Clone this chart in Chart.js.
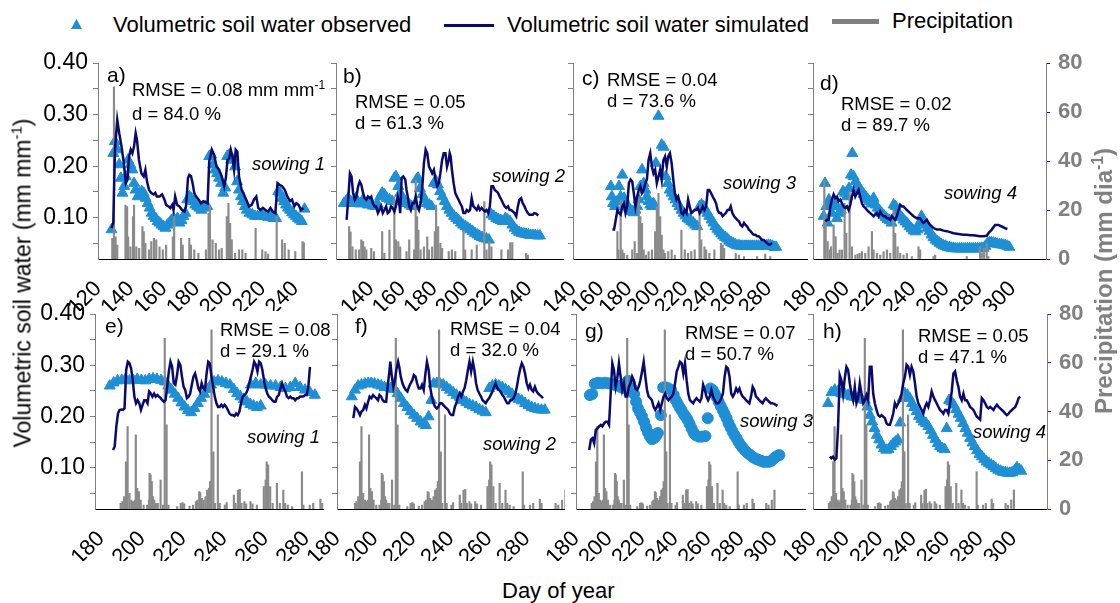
<!DOCTYPE html>
<html>
<head>
<meta charset="utf-8">
<script src="https://cdn.jsdelivr.net/npm/chart.js@4/dist/chart.umd.min.js"></script>
<style>
  html, body { margin: 0; padding: 0; background: #fff; }
  #stage { position: relative; width: 1120px; height: 603px; overflow: hidden; font-family: "Liberation Sans", Arial, sans-serif; color: #000; }
  #stage canvas { position: absolute; }
  .t { position: absolute; white-space: nowrap; line-height: 1; }
  .lab { font-size: 21px; }
  .st { font-size: 18.5px; line-height: 21px; }
  .sow { font-size: 18.5px; font-style: italic; }
  .leg { font-size: 22px; }
  sup { font-size: 0.65em; vertical-align: 0; position: relative; top: -0.6em; }
  .vt { position: absolute; white-space: nowrap; line-height: 1; transform: translate(-50%, -50%) rotate(-90deg); }
</style>
</head>
<body>
<div id="stage">
  <!-- legend -->
  <svg class="t" style="left:71px;top:19px" width="11" height="10"><polygon points="5.5,0 11,10 0,10" fill="#1f8fd5"/></svg>
  <div class="t leg" style="left:113px;top:14px">Volumetric soil water observed</div>
  <div class="t" style="left:444px;top:24px;width:50px;height:3px;background:#0a0a6e"></div>
  <div class="t leg" style="left:507px;top:14px">Volumetric soil water simulated</div>
  <div class="t" style="left:832px;top:19px;width:47px;height:5px;background:#808080"></div>
  <div class="t leg" style="left:892px;top:10px">Precipitation</div>
</div>
<script>
// ---- data: [day of year, value] ----
const yTicks = [0.05, 0.10, 0.15, 0.20, 0.25, 0.30, 0.35, 0.40];
const yLabels = [0.10, 0.20, 0.30, 0.40];
const rainTicks = [0, 20, 40, 60, 80];

const xTicksA = [120, 140, 160, 180, 200, 220, 240];
const xTicksB = [140, 160, 180, 200, 220, 240];
const xTicksC = [140, 160, 180, 200, 220, 240, 260, 280];
const xTicksD = [180, 200, 220, 240, 260, 280, 300];
const xTicksE = [180, 200, 220, 240, 260, 280];
const xTicksF = [180, 200, 220, 240, 260, 280];
const xTicksG = [180, 200, 220, 240, 260, 280, 300];
const xTicksH = [180, 200, 220, 240, 260, 280, 300];

// a) sowing 1, top row
const obsA = [[128.2,0.077],[129.3,0.225],[130.3,0.248],[131.7,0.232],[132.9,0.203],[133.9,0.177],[134.9,0.148],[135.9,0.161],[136.9,0.180],[138.3,0.212],[139.7,0.203],[140.9,0.193],[141.9,0.167],[142.9,0.154],[144.1,0.141],[145.4,0.148],[146.6,0.151],[147.8,0.148],[149.0,0.138],[150.2,0.128],[151.4,0.119],[152.6,0.109],[153.8,0.103],[155.0,0.099],[156.2,0.093],[157.4,0.090],[158.6,0.086],[159.8,0.083],[161.0,0.080],[162.2,0.086],[163.4,0.090],[164.6,0.095],[165.9,0.099],[167.1,0.093],[168.3,0.099],[169.5,0.090],[170.7,0.095],[171.9,0.103],[173.1,0.109],[174.3,0.135],[175.5,0.141],[176.7,0.138],[177.9,0.132],[179.1,0.125],[180.4,0.122],[181.6,0.119],[182.8,0.115],[184.0,0.119],[185.2,0.122],[186.4,0.122],[187.6,0.219],[188.8,0.222],[190.0,0.203],[191.2,0.193],[192.4,0.186],[193.6,0.177],[194.8,0.167],[196.1,0.148],[197.3,0.158],[198.5,0.219],[199.7,0.222],[200.9,0.212],[202.1,0.212],[203.3,0.199],[204.5,0.170],[205.7,0.154],[206.9,0.141],[208.1,0.132],[209.3,0.122],[210.5,0.115],[212.1,0.109],[213.8,0.106],[215.4,0.103],[217.0,0.103],[218.6,0.104],[220.2,0.103],[221.8,0.103],[223.4,0.101],[225.0,0.103],[226.6,0.099],[228.2,0.099],[229.5,0.151],[230.7,0.148],[231.9,0.138],[233.1,0.132],[234.3,0.125],[235.5,0.119],[236.7,0.115],[237.9,0.110],[239.1,0.106],[240.3,0.103],[241.5,0.099],[242.7,0.096],[243.9,0.093],[245.5,0.117]];
const simA = [[128.2,0.080],[129.3,0.090],[130.3,0.232],[131.7,0.290],[132.9,0.264],[134.3,0.238],[135.7,0.206],[136.9,0.167],[137.9,0.174],[138.9,0.219],[139.9,0.232],[140.9,0.225],[141.9,0.238],[142.9,0.264],[143.7,0.251],[144.9,0.212],[146.4,0.186],[147.8,0.180],[148.8,0.193],[149.8,0.170],[151.0,0.154],[152.4,0.148],[153.8,0.145],[154.8,0.148],[155.8,0.141],[157.4,0.141],[159.0,0.145],[160.4,0.135],[161.4,0.125],[162.9,0.122],[163.9,0.119],[165.1,0.125],[165.9,0.115],[166.9,0.141],[168.1,0.125],[169.5,0.122],[171.1,0.115],[172.5,0.112],[173.5,0.122],[174.7,0.177],[175.5,0.183],[176.5,0.181],[177.5,0.167],[178.5,0.148],[179.6,0.141],[181.2,0.135],[182.6,0.128],[184.0,0.132],[185.2,0.130],[186.6,0.128],[187.6,0.209],[189.2,0.232],[190.6,0.222],[192.0,0.199],[193.6,0.193],[195.2,0.180],[196.7,0.161],[197.7,0.177],[198.7,0.212],[199.7,0.215],[200.7,0.232],[201.7,0.219],[202.7,0.193],[203.7,0.232],[204.7,0.228],[205.7,0.180],[207.3,0.154],[208.7,0.145],[210.1,0.135],[211.8,0.122],[213.4,0.125],[214.8,0.135],[216.2,0.141],[217.4,0.119],[218.8,0.115],[220.2,0.119],[221.8,0.115],[223.4,0.112],[224.8,0.119],[226.2,0.112],[227.8,0.109],[229.1,0.167],[230.3,0.164],[231.9,0.161],[233.5,0.154],[235.1,0.141],[236.7,0.132],[237.9,0.135],[239.3,0.122],[240.5,0.128],[241.9,0.125],[243.3,0.115],[244.9,0.119]];
const rainA = [[128.7,8.4],[129.7,70.3],[130.7,9.1],[131.7,5.7],[136.7,22.0],[137.7,21.4],[138.3,9.1],[139.7,5.0],[141.3,17.3],[141.9,22.0],[143.3,5.0],[145.0,4.4],[147.0,13.2],[147.8,11.2],[148.8,6.4],[151.0,3.7],[152.4,7.1],[154.0,8.4],[155.4,7.8],[157.4,5.0],[159.4,3.7],[161.4,5.7],[165.5,9.1],[166.3,17.3],[170.5,8.4],[171.5,5.7],[175.5,8.4],[176.5,5.7],[178.5,3.7],[181.0,2.3],[185.6,3.7],[187.2,18.6],[188.0,22.0],[189.6,7.8],[191.6,6.4],[193.6,3.7],[195.2,4.4],[198.3,17.3],[199.3,22.7],[200.3,14.6],[201.3,7.8],[203.3,2.3],[205.7,3.7],[207.7,3.7],[209.7,2.3],[215.8,12.5],[219.8,3.7],[221.8,3.0],[223.4,2.0],[228.6,17.3],[231.9,7.8],[233.5,6.4],[235.9,3.7],[239.9,3.0],[244.3,7.1],[245.1,6.7]];

// b) sowing 2, top row
const obsB = [[123.0,0.128],[124.3,0.132],[125.7,0.138],[127.2,0.132],[128.8,0.128],[130.5,0.138],[132.0,0.128],[133.4,0.127],[135.1,0.135],[136.8,0.128],[138.2,0.125],[139.7,0.127],[141.3,0.123],[143.0,0.122],[144.5,0.125],[145.9,0.141],[147.2,0.148],[148.6,0.145],[150.1,0.138],[151.8,0.135],[153.4,0.132],[154.9,0.177],[155.9,0.180],[157.4,0.161],[158.6,0.148],[160.1,0.138],[161.5,0.132],[163.0,0.128],[164.5,0.125],[165.9,0.122],[167.4,0.122],[168.8,0.174],[169.9,0.177],[171.1,0.157],[172.6,0.145],[174.0,0.135],[175.5,0.128],[177.0,0.125],[178.4,0.122],[179.9,0.167],[181.1,0.172],[182.4,0.164],[183.8,0.151],[185.3,0.141],[186.8,0.132],[188.2,0.122],[189.7,0.115],[191.1,0.109],[192.6,0.103],[194.0,0.099],[195.5,0.095],[197.0,0.090],[198.4,0.086],[199.9,0.083],[201.3,0.080],[202.8,0.077],[204.3,0.074],[205.9,0.070],[207.4,0.067],[208.8,0.064],[210.3,0.062],[211.8,0.060],[213.2,0.059],[214.7,0.057],[216.3,0.106],[217.8,0.103],[219.3,0.099],[220.7,0.097],[222.2,0.095],[223.6,0.093],[225.1,0.099],[226.5,0.096],[228.0,0.093],[229.5,0.086],[230.9,0.080],[232.4,0.075],[233.8,0.072],[235.3,0.070],[236.8,0.069],[238.2,0.068],[239.7,0.067],[241.1,0.066],[242.6,0.066],[244.0,0.066],[245.5,0.065],[247.0,0.065]];
const simB = [[124.7,0.096],[125.7,0.135],[126.8,0.186],[127.8,0.180],[128.8,0.148],[129.9,0.135],[130.9,0.141],[132.0,0.161],[133.0,0.170],[134.0,0.164],[135.1,0.148],[136.1,0.138],[137.2,0.135],[138.2,0.141],[139.3,0.138],[140.3,0.141],[141.3,0.128],[142.4,0.122],[143.4,0.122],[144.5,0.109],[145.5,0.115],[146.5,0.122],[147.6,0.109],[148.6,0.115],[149.7,0.122],[150.7,0.109],[151.8,0.112],[152.8,0.122],[153.8,0.119],[154.9,0.112],[155.9,0.122],[157.0,0.141],[158.0,0.128],[158.6,0.109],[159.5,0.177],[160.5,0.180],[161.8,0.174],[162.6,0.154],[163.4,0.141],[164.3,0.122],[165.3,0.115],[166.3,0.128],[167.4,0.128],[168.4,0.141],[169.5,0.122],[170.5,0.115],[171.5,0.128],[172.6,0.161],[173.6,0.206],[174.7,0.232],[175.7,0.225],[176.8,0.199],[177.8,0.193],[178.8,0.186],[179.9,0.193],[180.9,0.174],[182.0,0.161],[183.0,0.167],[184.0,0.186],[185.1,0.212],[186.1,0.225],[187.2,0.225],[188.2,0.199],[189.3,0.212],[189.9,0.225],[190.5,0.219],[191.3,0.193],[192.4,0.167],[193.4,0.148],[194.5,0.141],[195.5,0.135],[196.5,0.128],[197.6,0.122],[198.6,0.109],[199.7,0.109],[200.7,0.115],[201.8,0.112],[202.8,0.115],[203.8,0.138],[204.9,0.122],[205.9,0.119],[207.0,0.115],[208.0,0.122],[209.0,0.115],[210.1,0.119],[211.1,0.115],[212.2,0.112],[213.2,0.115],[214.3,0.109],[215.3,0.122],[216.3,0.161],[217.4,0.161],[218.4,0.154],[219.5,0.151],[220.5,0.148],[221.5,0.141],[222.6,0.135],[223.6,0.128],[224.7,0.122],[225.7,0.119],[226.8,0.122],[227.8,0.115],[228.8,0.115],[229.9,0.112],[230.9,0.109],[232.0,0.103],[233.0,0.122],[234.0,0.135],[235.1,0.138],[236.1,0.128],[237.2,0.122],[238.2,0.115],[239.3,0.109],[240.3,0.106],[241.3,0.106],[242.4,0.106],[243.4,0.109],[244.5,0.108],[245.9,0.104]];
const rainB = [[126.3,13.2],[127.2,11.0],[128.4,5.0],[130.5,3.7],[132.6,3.7],[134.0,7.8],[135.1,7.1],[136.1,5.0],[137.2,3.7],[140.3,4.4],[142.0,3.0],[147.2,11.2],[148.6,2.3],[151.8,11.8],[154.9,25.4],[155.9,7.8],[157.4,7.1],[158.6,5.0],[162.6,3.0],[164.3,7.8],[167.4,3.7],[168.4,32.2],[169.3,17.3],[170.1,11.8],[171.5,3.7],[173.6,5.0],[175.7,9.1],[176.8,3.7],[178.8,5.0],[180.5,11.2],[181.3,22.0],[182.6,13.2],[184.0,6.4],[185.1,4.4],[189.3,3.0],[191.3,3.7],[193.4,3.0],[198.6,11.8],[199.7,3.7],[203.8,3.7],[207.0,5.7],[211.8,23.4],[213.2,3.7],[214.9,7.1],[216.3,5.0],[222.6,3.7],[226.8,3.7],[228.2,6.7],[229.5,6.7],[238.2,2.3],[239.3,1.6]];

// c) sowing 3, top row
const obsC = [[167.1,0.161],[167.8,0.141],[168.7,0.128],[170.1,0.122],[171.8,0.132],[172.9,0.161],[174.1,0.141],[175.3,0.183],[176.5,0.138],[177.6,0.125],[178.8,0.122],[180.0,0.119],[181.2,0.115],[182.4,0.112],[183.5,0.110],[184.7,0.115],[185.9,0.122],[187.1,0.135],[188.2,0.161],[189.4,0.193],[190.6,0.167],[191.8,0.154],[192.9,0.141],[194.1,0.132],[195.3,0.125],[196.5,0.122],[197.6,0.128],[199.3,0.206],[201.2,0.297],[203.5,0.241],[204.9,0.237],[206.4,0.180],[207.8,0.167],[209.2,0.154],[210.6,0.148],[212.0,0.141],[213.4,0.135],[214.8,0.128],[216.2,0.122],[217.6,0.115],[219.1,0.109],[220.5,0.104],[221.9,0.099],[223.3,0.096],[224.7,0.093],[226.1,0.090],[227.5,0.086],[228.9,0.083],[230.6,0.122],[232.0,0.125],[233.4,0.122],[234.8,0.115],[236.2,0.109],[237.6,0.103],[239.1,0.096],[240.5,0.090],[241.9,0.083],[243.3,0.078],[244.7,0.074],[246.1,0.069],[247.5,0.065],[248.9,0.062],[250.4,0.059],[251.8,0.055],[253.2,0.052],[254.6,0.050],[256.0,0.048],[257.4,0.046],[258.8,0.046],[260.2,0.045],[261.6,0.045],[263.1,0.045],[264.5,0.045],[265.9,0.045],[267.3,0.045],[268.7,0.045],[270.1,0.045],[271.5,0.045],[272.9,0.045],[274.4,0.045],[275.8,0.045],[277.2,0.045],[278.6,0.046],[280.0,0.047],[281.4,0.046],[282.8,0.045],[284.2,0.043],[285.4,0.043]];
const simC = [[168.2,0.077],[169.4,0.077],[170.6,0.096],[171.8,0.115],[172.9,0.109],[174.1,0.106],[175.3,0.122],[176.5,0.128],[177.6,0.109],[178.8,0.122],[180.0,0.167],[181.2,0.174],[182.4,0.170],[183.5,0.148],[184.7,0.122],[185.9,0.141],[187.1,0.154],[188.2,0.161],[189.4,0.148],[190.6,0.154],[191.8,0.167],[192.9,0.174],[194.1,0.212],[195.3,0.225],[196.5,0.199],[197.6,0.186],[198.8,0.193],[200.0,0.167],[201.2,0.180],[202.4,0.193],[203.5,0.174],[204.7,0.212],[205.9,0.219],[207.1,0.199],[208.2,0.219],[209.4,0.225],[210.6,0.206],[211.8,0.174],[212.9,0.148],[214.1,0.135],[215.3,0.141],[216.5,0.128],[217.6,0.109],[218.8,0.106],[220.0,0.115],[221.2,0.109],[222.4,0.135],[223.5,0.122],[224.7,0.109],[225.9,0.112],[227.1,0.115],[228.2,0.115],[229.4,0.119],[230.6,0.109],[231.8,0.115],[232.9,0.122],[234.1,0.115],[235.3,0.122],[236.5,0.154],[237.6,0.154],[238.8,0.148],[240.0,0.141],[241.2,0.135],[242.4,0.128],[243.5,0.115],[244.7,0.109],[245.9,0.109],[247.1,0.103],[248.2,0.106],[249.4,0.109],[250.6,0.115],[251.8,0.115],[252.9,0.122],[254.1,0.109],[255.3,0.103],[256.5,0.099],[257.6,0.096],[258.8,0.093],[260.0,0.086],[261.2,0.083],[262.4,0.090],[263.5,0.086],[264.7,0.083],[265.9,0.077],[267.1,0.074],[268.2,0.070],[269.4,0.067],[270.6,0.067],[271.8,0.064],[272.9,0.064],[274.1,0.061],[275.3,0.057],[276.5,0.057],[277.6,0.054],[278.8,0.051],[280.0,0.048],[281.2,0.048],[282.4,0.051]];
const rainC = [[171.8,11.2],[172.5,3.7],[174.1,24.1],[175.3,3.7],[176.5,2.3],[178.8,1.6],[182.4,3.7],[184.2,7.1],[185.9,2.3],[187.1,25.4],[188.2,17.3],[189.4,14.6],[190.6,3.7],[192.2,1.6],[194.1,3.0],[196.5,3.7],[198.8,11.2],[200.0,21.4],[201.2,26.8],[202.4,17.3],[203.5,9.8],[204.7,3.7],[205.9,2.3],[208.2,3.0],[210.6,3.7],[212.9,1.6],[217.6,11.8],[220.0,3.7],[222.4,2.3],[224.7,3.0],[227.1,3.7],[230.6,21.4],[231.8,7.8],[234.1,5.0],[235.3,3.7],[237.6,2.3],[241.2,3.7],[245.9,6.4],[247.1,5.7],[248.2,4.4],[256.5,2.3],[258.8,1.6],[262.4,1.0],[271.8,1.0],[277.6,2.0],[281.2,1.0]];

// d) sowing 4, top row
const obsD = [[186.4,0.103],[187.2,0.167],[188.0,0.122],[188.8,0.090],[189.6,0.135],[190.4,0.125],[191.4,0.109],[192.4,0.122],[193.4,0.128],[194.4,0.099],[195.6,0.109],[196.8,0.115],[198.0,0.151],[199.2,0.148],[200.4,0.141],[201.6,0.157],[202.8,0.183],[203.6,0.225],[204.4,0.180],[205.6,0.170],[206.8,0.164],[208.0,0.157],[209.2,0.151],[210.4,0.146],[211.6,0.141],[212.8,0.136],[214.0,0.132],[215.2,0.127],[216.4,0.138],[217.6,0.125],[218.8,0.119],[220.0,0.114],[221.2,0.109],[222.4,0.105],[223.6,0.101],[224.8,0.097],[226.0,0.095],[227.2,0.090],[228.4,0.125],[229.6,0.122],[230.8,0.112],[232.0,0.106],[233.2,0.101],[234.4,0.096],[235.6,0.092],[236.8,0.088],[238.0,0.083],[239.2,0.079],[240.4,0.075],[241.6,0.073],[242.8,0.077],[244.0,0.090],[245.2,0.103],[246.4,0.095],[247.6,0.086],[248.8,0.080],[250.0,0.074],[251.2,0.067],[252.4,0.062],[253.6,0.057],[254.8,0.054],[256.0,0.051],[257.2,0.048],[258.4,0.046],[259.6,0.045],[260.8,0.043],[262.0,0.042],[263.2,0.041],[264.4,0.041],[265.6,0.040],[266.8,0.040],[268.0,0.040],[269.2,0.040],[270.4,0.040],[271.6,0.040],[272.8,0.040],[274.0,0.040],[275.2,0.040],[276.4,0.040],[277.6,0.040],[278.8,0.040],[280.0,0.040],[281.2,0.041],[282.4,0.041],[283.6,0.045],[284.8,0.050],[286.0,0.052],[287.2,0.052],[288.4,0.051],[289.6,0.050],[290.8,0.049],[292.0,0.048],[293.2,0.048],[294.4,0.047],[295.6,0.046],[296.8,0.045],[298.0,0.043]];
const simD = [[187.4,0.093],[188.4,0.096],[189.4,0.096],[190.4,0.122],[191.4,0.135],[192.4,0.145],[193.4,0.138],[194.4,0.141],[195.4,0.132],[196.4,0.135],[197.4,0.128],[198.4,0.122],[199.4,0.119],[200.4,0.122],[201.4,0.115],[202.4,0.125],[203.4,0.141],[204.4,0.154],[205.4,0.141],[206.4,0.148],[207.4,0.154],[208.4,0.141],[209.4,0.128],[210.4,0.122],[211.4,0.119],[212.4,0.115],[213.4,0.112],[214.4,0.109],[215.4,0.106],[216.4,0.103],[217.4,0.106],[218.4,0.109],[219.4,0.103],[220.4,0.112],[221.4,0.106],[222.4,0.103],[223.4,0.103],[224.4,0.099],[225.4,0.099],[226.4,0.096],[227.4,0.103],[228.4,0.099],[229.4,0.096],[230.4,0.103],[231.4,0.115],[232.4,0.125],[233.4,0.122],[234.4,0.122],[236.4,0.115],[238.4,0.109],[240.4,0.103],[242.4,0.099],[244.4,0.099],[245.4,0.093],[246.4,0.090],[247.4,0.093],[248.4,0.096],[249.4,0.090],[250.4,0.086],[252.4,0.080],[254.4,0.077],[256.4,0.077],[258.4,0.075],[260.4,0.074],[262.4,0.072],[264.4,0.070],[266.4,0.069],[268.4,0.068],[270.4,0.067],[272.4,0.067],[274.4,0.066],[276.4,0.066],[278.4,0.065],[280.4,0.064],[282.4,0.064],[284.4,0.065],[285.4,0.070],[287.4,0.077],[289.4,0.086],[291.4,0.086],[293.4,0.083],[295.4,0.080],[296.8,0.078]];
const rainD = [[186.8,32.2],[187.6,14.6],[188.8,7.1],[190.0,3.7],[190.8,5.0],[192.4,13.9],[193.6,9.1],[194.8,2.3],[196.0,3.7],[197.4,3.7],[199.0,22.7],[200.0,10.5],[202.0,27.5],[203.4,5.0],[205.4,1.6],[206.8,2.0],[208.0,2.3],[209.4,3.0],[211.4,2.3],[213.4,5.0],[215.4,11.2],[216.4,3.7],[218.4,2.3],[220.4,1.6],[222.4,3.0],[224.4,3.7],[226.4,2.3],[228.4,20.0],[229.4,10.5],[230.8,5.0],[232.4,2.3],[234.4,1.6],[236.4,2.3],[239.4,1.0],[243.4,5.0],[244.4,3.7],[252.4,1.0],[253.4,1.6],[272.4,1.0],[280.4,5.0],[281.4,2.3],[282.8,4.4],[284.4,6.4],[285.4,1.0]];

// bottom row: one rainfall record shared by e) to h)
const rainBottom = [[189.5,2.3],[190.3,3.0],[191.2,5.1],[192.1,19.4],[192.9,33.8],[193.8,6.4],[194.7,3.7],[195.5,3.0],[196.4,3.7],[196.9,30.4],[197.6,8.5],[198.4,7.1],[199.3,3.7],[200.7,1.6],[202.4,1.6],[203.3,3.7],[203.6,14.6],[204.1,14.0],[204.7,11.2],[205.3,5.1],[205.9,3.7],[206.7,2.3],[207.6,2.3],[209.0,11.9],[210.2,1.6],[211.0,70.0],[211.9,34.5],[212.8,1.6],[217.1,1.0],[218.8,2.3],[219.7,2.6],[220.5,2.1],[223.1,1.2],[224.8,1.6],[226.2,3.0],[226.9,3.7],[227.8,7.1],[228.3,6.7],[229.1,4.4],[230.0,3.7],[230.9,5.1],[231.7,7.8],[232.6,8.5],[233.1,11.2],[233.8,73.5],[234.7,23.5],[235.5,2.3],[236.9,38.6],[237.8,2.3],[240.3,1.6],[241.2,2.6],[244.7,5.7],[245.5,2.3],[246.7,7.8],[247.6,8.1],[248.4,2.3],[249.8,3.0],[250.7,2.1],[252.8,3.0],[253.8,2.1],[255.9,1.6],[259.3,9.2],[260.2,11.9],[260.7,19.4],[261.4,18.1],[262.4,9.2],[263.6,2.3],[265.7,10.5],[267.1,2.3],[268.8,7.8],[269.7,2.3],[271.0,1.6],[273.1,1.0],[277.9,15.3],[278.6,1.6],[281.7,1.6],[283.4,2.3],[286.9,4.1],[287.8,2.3],[295.2,2.3],[296.6,1.6],[298.6,3.7],[300.2,7.8]];

// e) sowing 1, bottom row
const obsE = [[184.2,0.260],[186.1,0.266],[188.0,0.270],[190.0,0.271],[191.9,0.273],[193.8,0.270],[195.7,0.271],[197.6,0.273],[199.6,0.271],[201.5,0.270],[203.4,0.273],[205.3,0.274],[207.2,0.273],[209.2,0.271],[211.1,0.268],[212.7,0.260],[214.3,0.252],[215.9,0.244],[217.5,0.236],[219.1,0.227],[220.7,0.219],[222.3,0.212],[223.9,0.208],[225.5,0.216],[227.1,0.226],[228.7,0.236],[230.3,0.244],[231.9,0.253],[233.5,0.262],[235.1,0.268],[237.0,0.270],[238.9,0.268],[240.8,0.265],[242.8,0.262],[244.7,0.253],[246.3,0.245],[247.9,0.239],[249.5,0.234],[251.1,0.229],[252.7,0.224],[254.3,0.221],[255.9,0.218],[257.8,0.221],[253.0,0.262],[255.4,0.265],[257.8,0.262],[260.2,0.262],[262.6,0.260],[265.0,0.260],[267.4,0.257],[269.8,0.255],[272.2,0.257],[274.6,0.265],[277.0,0.257],[279.4,0.252],[281.8,0.247],[284.2,0.242]];
const simE = [[185.8,0.135],[186.6,0.142],[187.4,0.181],[188.2,0.206],[189.0,0.213],[189.8,0.214],[190.6,0.213],[191.4,0.216],[192.2,0.291],[193.0,0.307],[193.8,0.304],[194.6,0.294],[195.4,0.271],[196.2,0.239],[197.0,0.226],[197.8,0.232],[198.6,0.226],[199.4,0.213],[200.2,0.223],[201.0,0.232],[201.8,0.232],[202.6,0.226],[203.4,0.249],[204.2,0.245],[205.0,0.239],[205.8,0.245],[206.6,0.239],[207.4,0.242],[208.2,0.239],[209.0,0.236],[209.8,0.232],[210.6,0.229],[211.4,0.232],[212.2,0.258],[213.0,0.288],[213.8,0.307],[214.6,0.297],[215.4,0.265],[216.2,0.262],[217.0,0.281],[217.8,0.307],[218.6,0.301],[219.4,0.278],[220.2,0.258],[221.0,0.252],[221.8,0.236],[222.6,0.239],[223.4,0.245],[224.2,0.262],[225.0,0.278],[225.8,0.284],[226.6,0.271],[227.4,0.255],[228.2,0.249],[229.0,0.265],[229.8,0.255],[230.6,0.252],[231.4,0.284],[232.2,0.307],[233.0,0.304],[233.8,0.278],[234.6,0.258],[235.4,0.239],[236.2,0.226],[237.0,0.219],[237.8,0.219],[238.6,0.223],[239.4,0.219],[240.2,0.223],[241.0,0.219],[241.8,0.213],[242.6,0.206],[243.4,0.203],[244.2,0.203],[245.0,0.201],[245.8,0.206],[246.6,0.203],[247.4,0.210],[248.2,0.226],[249.0,0.239],[249.8,0.242],[250.6,0.245],[251.4,0.252],[252.2,0.265],[253.0,0.278],[253.8,0.291],[254.6,0.307],[255.4,0.301],[256.2,0.288],[257.0,0.307],[257.8,0.304],[258.6,0.291],[259.4,0.271],[260.2,0.255],[261.0,0.245],[261.8,0.239],[262.6,0.236],[263.4,0.232],[264.2,0.229],[265.0,0.229],[265.8,0.239],[266.6,0.242],[267.4,0.255],[268.2,0.265],[269.0,0.255],[269.8,0.249],[270.6,0.239],[271.4,0.236],[272.2,0.239],[273.0,0.236],[273.8,0.236],[274.6,0.232],[275.4,0.236],[276.2,0.236],[277.0,0.239],[277.8,0.239],[278.6,0.239],[279.4,0.242],[280.2,0.242],[281.0,0.258],[281.8,0.297]];

// f) sowing 2, bottom row
const obsF = [[187.8,0.239],[189.5,0.252],[191.2,0.260],[192.9,0.262],[194.7,0.264],[196.4,0.265],[198.1,0.265],[199.8,0.264],[201.6,0.262],[203.3,0.260],[205.0,0.257],[206.7,0.257],[208.4,0.255],[210.2,0.253],[211.9,0.245],[213.6,0.236],[215.3,0.226],[217.1,0.218],[218.8,0.210],[220.5,0.203],[222.2,0.197],[224.0,0.190],[225.7,0.186],[226.9,0.183],[228.3,0.200],[229.7,0.232],[230.9,0.264],[232.6,0.265],[234.3,0.264],[236.0,0.262],[237.8,0.257],[239.5,0.252],[241.2,0.247],[242.9,0.242],[244.7,0.238],[246.4,0.232],[248.1,0.228],[249.8,0.224],[251.6,0.221],[253.3,0.218],[255.0,0.214],[256.7,0.211],[258.4,0.208],[260.2,0.255],[261.9,0.260],[263.6,0.262],[265.3,0.260],[267.1,0.257],[268.8,0.253],[270.5,0.249],[272.2,0.244],[274.0,0.239],[275.7,0.234],[277.4,0.231],[279.1,0.226],[280.9,0.222],[282.6,0.218],[284.3,0.216],[286.0,0.214],[287.8,0.213],[289.5,0.213]];
const simF = [[188.6,0.197],[189.5,0.219],[190.3,0.216],[191.2,0.210],[192.1,0.203],[192.9,0.210],[193.8,0.213],[194.7,0.223],[195.5,0.216],[196.4,0.229],[197.2,0.239],[198.1,0.236],[199.0,0.242],[199.8,0.239],[200.7,0.236],[201.6,0.232],[202.4,0.242],[203.3,0.239],[204.1,0.232],[205.0,0.229],[205.9,0.229],[206.7,0.258],[207.6,0.288],[208.1,0.307],[208.8,0.281],[209.7,0.258],[210.5,0.271],[211.4,0.294],[212.2,0.307],[212.8,0.297],[213.6,0.278],[214.5,0.265],[215.3,0.258],[216.2,0.252],[217.1,0.249],[217.9,0.258],[218.8,0.265],[219.7,0.271],[220.5,0.281],[221.4,0.278],[222.2,0.265],[223.1,0.255],[224.0,0.255],[224.8,0.262],[225.7,0.252],[226.6,0.284],[227.4,0.307],[228.3,0.291],[229.1,0.258],[230.0,0.239],[230.9,0.226],[231.7,0.219],[232.6,0.216],[233.4,0.219],[234.3,0.226],[235.2,0.226],[236.0,0.223],[236.9,0.219],[237.8,0.216],[238.6,0.213],[239.5,0.206],[240.3,0.203],[241.2,0.203],[242.1,0.219],[242.9,0.226],[243.8,0.239],[244.7,0.245],[245.5,0.239],[246.4,0.249],[247.2,0.255],[248.1,0.271],[249.0,0.291],[249.8,0.307],[250.7,0.288],[251.6,0.307],[252.4,0.291],[253.3,0.265],[254.1,0.252],[255.0,0.245],[255.9,0.239],[256.7,0.232],[257.6,0.229],[258.4,0.226],[259.3,0.232],[260.2,0.236],[261.0,0.242],[261.9,0.249],[262.8,0.258],[263.6,0.265],[264.5,0.255],[265.3,0.252],[266.2,0.249],[267.1,0.242],[267.9,0.239],[268.8,0.232],[269.7,0.226],[270.5,0.226],[271.4,0.232],[272.2,0.232],[273.1,0.236],[274.0,0.245],[274.8,0.258],[275.7,0.278],[276.6,0.294],[277.4,0.304],[278.3,0.297],[279.1,0.284],[280.0,0.265],[280.9,0.255],[281.7,0.262],[282.6,0.252],[283.4,0.249],[284.3,0.258],[285.2,0.249],[286.0,0.245],[286.9,0.242],[287.8,0.239],[288.6,0.236]];

// g) sowing 3, bottom row
const obsG = [[188.4,0.242],[189.8,0.244],[191.4,0.264],[193.4,0.266],[195.4,0.265],[197.4,0.266],[199.4,0.265],[201.4,0.264],[203.4,0.262],[205.4,0.260],[207.4,0.257],[209.4,0.255],[211.4,0.270],[212.8,0.264],[214.0,0.255],[215.2,0.244],[216.4,0.229],[217.6,0.216],[218.8,0.208],[220.0,0.200],[221.2,0.190],[222.4,0.179],[223.6,0.169],[224.8,0.161],[226.0,0.156],[227.2,0.158],[228.4,0.162],[229.6,0.168],[231.4,0.203],[232.8,0.257],[234.4,0.257],[236.0,0.255],[237.6,0.252],[239.2,0.242],[240.4,0.232],[241.6,0.225],[242.8,0.218],[244.0,0.212],[245.2,0.205],[246.4,0.200],[247.6,0.194],[248.8,0.186],[250.0,0.177],[251.2,0.169],[252.4,0.164],[254.4,0.161],[256.4,0.161],[258.4,0.162],[259.8,0.197],[261.4,0.255],[262.8,0.252],[264.0,0.245],[265.2,0.238],[266.4,0.229],[267.6,0.221],[268.8,0.213],[270.0,0.205],[271.2,0.197],[272.4,0.187],[273.6,0.179],[274.8,0.171],[276.0,0.164],[277.2,0.158],[278.4,0.151],[279.6,0.145],[280.8,0.140],[282.4,0.134],[284.0,0.129],[285.6,0.125],[287.2,0.121],[288.8,0.118],[290.4,0.116],[292.0,0.114],[293.6,0.112],[295.2,0.112],[296.8,0.112],[298.4,0.114],[300.0,0.119],[301.6,0.123],[303.2,0.125]];
const simG = [[188,0.135],[189,0.155],[190,0.158],[191,0.148],[192,0.174],[193,0.177],[194,0.181],[195,0.184],[196,0.181],[197,0.187],[198,0.190],[199,0.190],[200,0.184],[201,0.245],[202,0.304],[203,0.291],[204,0.258],[205,0.275],[206,0.304],[207,0.278],[208,0.252],[209,0.265],[210,0.239],[211,0.239],[212,0.258],[213,0.265],[214,0.278],[215,0.271],[216,0.255],[217,0.252],[218,0.258],[219,0.271],[220,0.288],[221,0.307],[222,0.278],[223,0.252],[224,0.239],[225,0.236],[226,0.232],[227,0.219],[228,0.213],[229,0.219],[230,0.226],[231,0.213],[232,0.226],[233,0.239],[234,0.245],[235,0.236],[236,0.232],[237,0.236],[238,0.239],[239,0.245],[240,0.265],[241,0.288],[242,0.297],[243,0.307],[244,0.304],[245,0.284],[246,0.304],[247,0.271],[248,0.245],[249,0.232],[250,0.229],[251,0.226],[252,0.232],[253,0.236],[254,0.232],[255,0.229],[256,0.236],[257,0.262],[258,0.252],[259,0.239],[260,0.232],[261,0.239],[262,0.252],[263,0.239],[264,0.232],[265,0.226],[266,0.226],[267,0.229],[268,0.236],[269,0.245],[270,0.278],[271,0.297],[272,0.294],[273,0.278],[274,0.245],[275,0.239],[276,0.245],[277,0.255],[278,0.249],[279,0.255],[280,0.245],[281,0.239],[282,0.236],[283,0.232],[284,0.229],[285,0.226],[286,0.239],[287,0.258],[288,0.252],[289,0.239],[290,0.236],[291,0.232],[292,0.229],[293,0.226],[294,0.232],[295,0.236],[296,0.232],[297,0.229],[298,0.226],[299,0.226],[300,0.225],[301,0.223],[302,0.221]];

// h) sowing 4, bottom row
const obsH = [[189.0,0.226],[191.0,0.247],[193.0,0.252],[195.0,0.249],[197.0,0.245],[199.0,0.244],[201.0,0.242],[203.0,0.239],[205.0,0.238],[207.0,0.236],[209.0,0.234],[211.0,0.232],[212.6,0.219],[214.0,0.203],[215.4,0.190],[216.8,0.177],[218.2,0.164],[219.6,0.155],[221.0,0.145],[222.4,0.138],[223.8,0.135],[225.2,0.136],[226.6,0.142],[228.0,0.147],[229.4,0.151],[230.8,0.155],[232.2,0.188],[233.6,0.236],[235.0,0.245],[236.4,0.242],[237.8,0.236],[239.2,0.226],[240.6,0.218],[242.0,0.210],[243.4,0.201],[244.8,0.195],[246.2,0.190],[247.6,0.187],[249.0,0.181],[250.4,0.173],[251.8,0.164],[253.2,0.156],[254.6,0.148],[256.0,0.142],[257.4,0.138],[258.8,0.136],[260.0,0.177],[261.4,0.232],[262.8,0.229],[264.2,0.223],[265.6,0.214],[267.0,0.205],[268.4,0.197],[269.8,0.187],[271.2,0.177],[272.6,0.168],[274.0,0.158],[275.4,0.149],[276.8,0.142],[278.2,0.134],[279.6,0.127],[281.0,0.122],[282.4,0.117],[283.8,0.112],[285.2,0.109],[286.6,0.106],[288.0,0.103],[289.4,0.099],[290.8,0.096],[292.2,0.094],[293.6,0.092],[295.0,0.091],[296.4,0.090],[297.8,0.090],[299.2,0.091],[300.6,0.095],[302.0,0.101],[303.4,0.097],[304.6,0.094]];
const simH = [[190,0.122],[191,0.119],[192,0.122],[193,0.116],[194,0.119],[195,0.181],[196,0.281],[197,0.271],[198,0.245],[199,0.275],[200,0.297],[201,0.291],[202,0.265],[203,0.245],[204,0.232],[205,0.258],[206,0.226],[207,0.236],[208,0.265],[209,0.245],[210,0.226],[211,0.232],[212,0.242],[213,0.232],[214,0.297],[215,0.297],[216,0.245],[217,0.226],[218,0.213],[219,0.203],[220,0.200],[221,0.203],[222,0.200],[223,0.197],[224,0.187],[225,0.184],[226,0.184],[227,0.194],[228,0.206],[229,0.226],[230,0.219],[231,0.226],[232,0.232],[233,0.245],[234,0.265],[235,0.278],[236,0.301],[237,0.297],[238,0.281],[239,0.297],[240,0.288],[241,0.265],[242,0.239],[243,0.226],[244,0.219],[245,0.213],[246,0.206],[247,0.219],[248,0.226],[249,0.219],[250,0.232],[251,0.249],[252,0.239],[253,0.232],[254,0.226],[255,0.219],[256,0.213],[257,0.210],[258,0.206],[259,0.213],[260,0.213],[261,0.206],[262,0.226],[263,0.249],[264,0.284],[265,0.288],[266,0.271],[267,0.258],[268,0.239],[269,0.232],[270,0.245],[271,0.232],[272,0.232],[273,0.226],[274,0.219],[275,0.216],[276,0.213],[277,0.206],[278,0.200],[279,0.197],[280,0.194],[281,0.236],[282,0.232],[283,0.226],[284,0.219],[285,0.216],[286,0.219],[287,0.216],[288,0.213],[289,0.219],[290,0.223],[291,0.219],[292,0.216],[293,0.213],[294,0.210],[295,0.206],[296,0.203],[297,0.206],[298,0.210],[299,0.213],[300,0.216],[301,0.219],[302,0.226],[303,0.236],[304,0.239]];

// panel annotations
const panelLabels = ['a)', 'b)', 'c)', 'd)', 'e)', 'f)', 'g)', 'h)'];
const rmse = ['0.08', '0.05', '0.04', '0.02', '0.08', '0.04', '0.07', '0.05'];
const dIndex = ['84.0', '61.3', '73.6', '89.7', '29.1', '32.0', '50.7', '47.1'];
const sowings = ['sowing 1', 'sowing 2', 'sowing 3', 'sowing 4', 'sowing 1', 'sowing 2', 'sowing 3', 'sowing 4'];

// ---- layout ----
const FONT = '"Liberation Sans", Arial, sans-serif';
const OBS = '#1f8fd5';
const SIM = '#0a0a6e';
const RAIN = '#8a8a8a';

const panels = [
  { plot: [98, 63, 330, 259], xMin: 120, xMax: 259, xTicks: xTicksA, obs: obsA, sim: simA, rain: rainA, yLab: true, right: false, mark: 'triangle',
    lab: [107, 64], st: [132, 79], sow: [252, 155], unit: true },
  { plot: [336, 63, 567, 259], xMin: 118, xMax: 262, xTicks: xTicksB, obs: obsB, sim: simB, rain: rainB, yLab: false, right: false, mark: 'triangle',
    lab: [343, 65], st: [355, 91], sow: [492, 167] },
  { plot: [573, 63, 811, 259], xMin: 140, xMax: 308, xTicks: xTicksC, obs: obsC, sim: simC, rain: rainC, yLab: false, right: false, mark: 'triangle',
    lab: [582, 67], st: [607, 69], sow: [723, 174] },
  { plot: [813, 63, 1046, 259], xMin: 180, xMax: 320, xTicks: xTicksD, obs: obsD, sim: simD, rain: rainD, yLab: false, right: true, mark: 'triangle',
    lab: [820, 72], st: [841, 93], sow: [944, 184] },
  { plot: [95, 314, 327, 509], xMin: 177, xMax: 288.5, xTicks: xTicksE, obs: obsE, sim: simE, rain: rainBottom, yLab: true, right: false, mark: 'triangle',
    lab: [105, 315], st: [220, 319], sow: [247, 428] },
  { plot: [337, 314, 568, 509], xMin: 180, xMax: 300, xTicks: xTicksF, obs: obsF, sim: simF, rain: rainBottom, yLab: false, right: false, mark: 'triangle',
    lab: [355, 315], st: [450, 318], sow: [483, 435] },
  { plot: [576, 314, 808, 509], xMin: 180, xMax: 319, xTicks: xTicksG, obs: obsG, sim: simG, rain: rainBottom, yLab: false, right: false, mark: 'circle',
    lab: [585, 320], st: [685, 322], sow: [740, 412] },
  { plot: [813, 314, 1047, 509], xMin: 180, xMax: 320, xTicks: xTicksH, obs: obsH, sim: simH, rain: rainBottom, yLab: false, right: true, mark: 'triangle',
    lab: [823, 320], st: [918, 325], sow: [973, 423] }
];

const stage = document.getElementById('stage');
const toXY = arr => arr.map(([x, y]) => ({ x, y }));

const addText = (cls, left, top, html) => {
  const el = document.createElement('div');
  el.className = 't ' + cls;
  el.style.left = left + 'px';
  el.style.top = top + 'px';
  el.innerHTML = html;
  stage.appendChild(el);
};

const makePanel = (p, i) => {
  const lw = p.yLab ? p.plot[0] : 40;
  const rw = p.right ? 62 : 0;
  const pt = 20, pr = 4, xh = 52;
  const plotW = p.plot[2] - p.plot[0];
  const plotH = p.plot[3] - p.plot[1];

  const cv = document.createElement('canvas');
  cv.width = lw + plotW + rw + pr;
  cv.height = pt + plotH + xh;
  cv.style.left = (p.plot[0] - lw) + 'px';
  cv.style.top = (p.plot[1] - pt) + 'px';
  stage.appendChild(cv);

  new Chart(cv, {
    type: 'scatter',
    data: {
      datasets: [
        {
          type: 'line', label: 'Volumetric soil water simulated', data: toXY(p.sim),
          borderColor: SIM, borderWidth: 2.5, pointRadius: 0, tension: 0, showLine: true,
          yAxisID: 'y', order: 0
        },
        {
          type: 'bar', label: 'Precipitation', data: toXY(p.rain),
          backgroundColor: RAIN, barThickness: 1.5, yAxisID: 'y2', order: 1
        },
        {
          type: 'line', label: 'Volumetric soil water observed', data: toXY(p.obs),
          showLine: false, pointStyle: p.mark, pointRadius: p.mark === 'circle' ? 5.5 : 6.3,
          pointBackgroundColor: OBS, pointBorderColor: OBS, pointBorderWidth: 1,
          yAxisID: 'y', order: 2
        }
      ]
    },
    options: {
      responsive: false,
      animation: false,
      devicePixelRatio: 1,
      events: [],
      layout: { padding: { top: pt, right: pr, left: 0, bottom: 0 } },
      plugins: { legend: { display: false }, tooltip: { enabled: false } },
      scales: {
        x: {
          type: 'linear', position: 'bottom', min: p.xMin, max: p.xMax, offset: false,
          afterBuildTicks: s => { s.ticks = p.xTicks.map(v => ({ value: v })); },
          afterFit: s => { s.height = xh; s.paddingLeft = 0; s.paddingRight = 0; },
          ticks: { autoSkip: false, minRotation: 45, maxRotation: 45, padding: 9, color: '#000',
                   font: { family: FONT, size: 22 } },
          grid: { display: false },
          border: { display: true, color: '#000', width: 1 }
        },
        y: {
          type: 'linear', position: 'left', min: 0.02, max: 0.40,
          afterBuildTicks: s => { s.ticks = yTicks.map(v => ({ value: v })); },
          afterFit: s => { s.width = lw; s.paddingTop = 0; s.paddingBottom = 0; },
          ticks: { autoSkip: false, padding: 5, color: '#000', font: { family: FONT, size: 23 },
                   callback: v => (p.yLab && yLabels.some(l => Math.abs(l - v) < 1e-6)) ? v.toFixed(2) : '' },
          grid: { drawOnChartArea: false, drawTicks: true, tickLength: 5, color: '#808080' },
          border: { display: true, color: '#808080', width: 1 }
        },
        y2: {
          type: 'linear', position: 'right', min: 0, max: 80, display: p.right,
          afterBuildTicks: s => { s.ticks = rainTicks.map(v => ({ value: v })); },
          afterFit: s => { s.width = rw; s.paddingTop = 0; s.paddingBottom = 0; },
          ticks: { autoSkip: false, padding: 8, color: '#808080', font: { family: FONT, size: 22, weight: 'bold' } },
          grid: { drawOnChartArea: false, drawTicks: true, tickLength: 4, color: '#0000ff' },
          border: { display: true, color: '#808080', width: 1 }
        }
      }
    }
  });

  addText('lab', p.lab[0], p.lab[1], panelLabels[i]);
  addText('st', p.st[0], p.st[1], 'RMSE = ' + rmse[i] + (p.unit ? ' mm mm<sup>-1</sup>' : '') + '<br>d = ' + dIndex[i] + ' %');
  addText('sow', p.sow[0], p.sow[1], sowings[i]);
};

panels.forEach(makePanel);

// axis titles
const leftTitle = document.createElement('div');
leftTitle.className = 'vt';
leftTitle.style.cssText = 'left:23px;top:283px;font-size:23px;';
leftTitle.innerHTML = 'Volumetric soil water (mm mm<sup>-1</sup>)';
stage.appendChild(leftTitle);

const rightTitle = document.createElement('div');
rightTitle.className = 'vt';
rightTitle.style.cssText = 'left:1104px;top:281px;font-size:24px;font-weight:bold;color:#808080;';
rightTitle.innerHTML = 'Precipitation (mm dia<sup>-1</sup>)';
stage.appendChild(rightTitle);

addText('leg', 502, 580, 'Day of year');
</script>
</body>
</html>
